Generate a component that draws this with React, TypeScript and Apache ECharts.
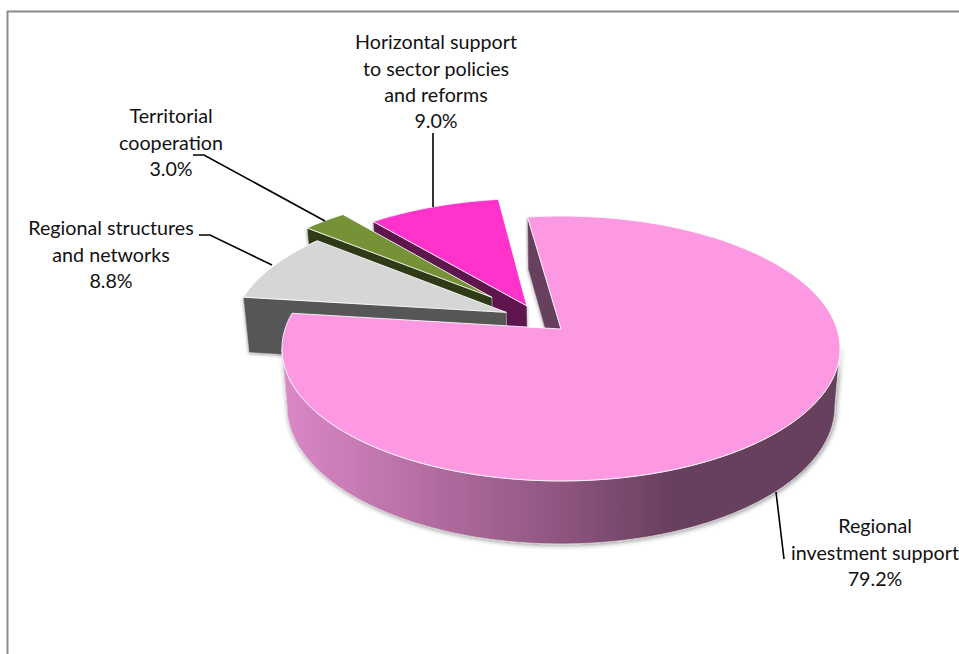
import React, { useEffect, useRef } from "react";
import * as echarts from "echarts";

const categories = [
  "Regional\ninvestment support",
  "Regional structures\nand networks",
  "Territorial\ncooperation",
  "Horizontal support\nto sector policies\nand reforms",
];
const shares = [79.2, 8.8, 3.0, 9.0];

// style and layout
const topColors = ["#fd99e2", "#d6d6d6", "#769237", "#ff33cc"];
const wallColors = ["#66405b", "#565656", "#2f3b16", "#5f1250"];
const explode = [0.113, 0.132, 0.25, 0.113];
const layers = [1, 4, 3, 2];
const labelAnchors = [
  [875, 512.5],
  [111, 214.5],
  [171, 102.5],
  [436, 28.5],
];
const leaders = [
  [[776, 492], [784, 559]],
  [[199, 235], [210, 235], [272, 265]],
  [[193, 155], [204, 155], [325, 221]],
  [[433, 133], [433, 207]],
];

const START_DEG = -8;
const K = 0.147;
const CX = 561;
const TOP = { y0: 329, h: 129.6, w: 276 };
const BOTTOM = { y0: 385.7, h: 135, w: 271 };
const rad = (d: number) => (d * Math.PI) / 180;

type Disc = { y0: number; h: number; w: number };
const project = (u: number, v: number, d: Disc) => {
  const q = 1 + K * v;
  return [CX + (d.w * u) / q, d.y0 - (d.h * v) / q];
};

function angles() {
  let a = START_DEG;
  return shares.map((s) => {
    const from = a;
    a += (s / 100) * 360;
    return [from, a];
  });
}
const spans = angles();
const mid0 = rad((spans[0][0] + spans[0][1]) / 2);
const offset = [explode[0] * Math.sin(mid0), explode[0] * Math.cos(mid0)];

function centre(i: number) {
  const m = rad((spans[i][0] + spans[i][1]) / 2);
  return [explode[i] * Math.sin(m) - offset[0], explode[i] * Math.cos(m) - offset[1]];
}
function rim(i: number, deg: number, d: Disc) {
  const c = centre(i);
  return project(c[0] + Math.sin(rad(deg)), c[1] + Math.cos(rad(deg)), d);
}
function arc(i: number, a: number, b: number, d: Disc) {
  const pts: number[][] = [];
  const n = Math.max(2, Math.ceil(Math.abs(b - a)));
  for (let j = 0; j <= n; j++) pts.push(rim(i, a + ((b - a) * j) / n, d));
  return pts;
}

function renderSlice(params: any) {
  const i = params.dataIndex;
  const [a, b] = spans[i];
  const c = centre(i);
  const z = layers[i];
  const topZ = i === 0 ? 10 : z;
  const children: any[] = [];
  children.push({
    type: "polygon",
    z2: z,
    shape: {
      points: [rim(i, a, TOP), project(c[0], c[1], TOP), project(c[0], c[1], BOTTOM), rim(i, a, BOTTOM)],
    },
    style: {
      fill: wallColors[i],
      stroke: "#c9c9c9",
      lineWidth: 0.6,
      shadowBlur: 3,
      shadowColor: "rgba(0,0,0,0.4)",
      shadowOffsetX: 0,
      shadowOffsetY: 1,
    },
  });
  const lim = (Math.acos(-K) * 180) / Math.PI;
  const fa = Math.max(a, lim);
  const fb = Math.min(b, 360 - lim);
  if (fb > fa) {
    const upper = arc(i, fa, fb, TOP);
    const lower = arc(i, fa, fb, BOTTOM).reverse();
    children.push({
      type: "polygon",
      z2: 9,
      shape: { points: upper.concat(lower) },
      style: {
        fill: {
          type: "linear",
          x: 1,
          y: 0,
          x2: 0,
          y2: 0,
          colorStops: [
            { offset: 0, color: "#663f5b" },
            { offset: 0.29, color: "#663f5b" },
            { offset: 0.5, color: "#8f5580" },
            { offset: 1, color: "#db88c7" },
          ],
        },
        stroke: "#d4d4d4",
        lineWidth: 0.8,
        shadowBlur: 5,
        shadowColor: "rgba(0,0,0,0.45)",
        shadowOffsetX: 1,
        shadowOffsetY: 1,
      },
    });
  }
  children.push({
    type: "polygon",
    z2: topZ,
    shape: { points: [project(c[0], c[1], TOP)].concat(arc(i, a, b, TOP)) },
    style: { fill: topColors[i], stroke: "rgba(255,255,255,0.85)", lineWidth: 1 },
  });
  return { type: "group", children };
}

export default function App() {
  const ref = useRef<HTMLDivElement>(null);
  useEffect(() => {
    const chart = echarts.init(ref.current!, null, { renderer: "svg" });
    chart.setOption({
      animation: false,
      backgroundColor: "#ffffff",
      series: [
        {
          type: "custom",
          coordinateSystem: "none",
          clip: false,
          silent: true,
          data: shares.map((s) => [s]),
          renderItem: renderSlice,
        },
      ],
      graphic: [
        {
          type: "polyline",
          z: 20,
          silent: true,
          shape: { points: [[7.5, 654], [7.5, 11.5], [959, 11.5]] },
          style: { stroke: "#8a8a8a", lineWidth: 2, fill: "none" },
        },
        ...leaders.map((points) => ({
          type: "polyline",
          z: 20,
          silent: true,
          shape: { points },
          style: { stroke: "#000000", lineWidth: 1.6, fill: "none" },
        })),
        ...categories.map((name, i) => ({
          type: "text",
          z: 21,
          silent: true,
          x: labelAnchors[i][0],
          y: labelAnchors[i][1],
          style: {
            text: `${name}\n${shares[i].toFixed(1)}%`,
            font: "19.7px Lato",
            lineHeight: 26.4,
            textAlign: "center",
            textVerticalAlign: "top",
            fill: "#111111",
          },
        })),
      ],
    });
    return () => chart.dispose();
  }, []);
  return (
    <div
      ref={ref}
      style={{ position: "fixed", left: 0, top: 0, width: 959, height: 654, background: "#fff" }}
    />
  );
}
